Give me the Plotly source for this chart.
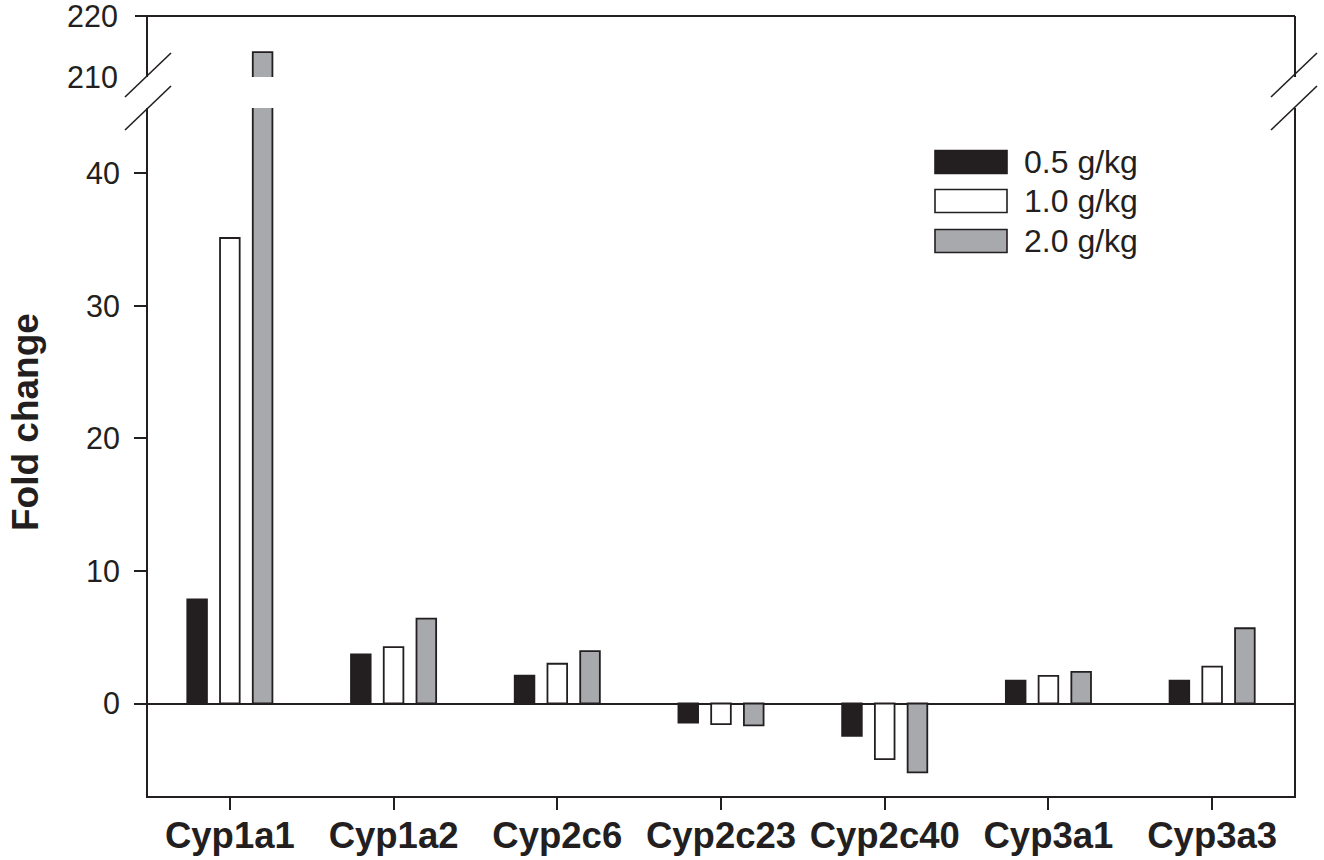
import plotly.graph_objects as go

categories = ["Cyp1a1", "Cyp1a2", "Cyp2c6", "Cyp2c23", "Cyp2c40", "Cyp3a1", "Cyp3a3"]
series_names = ["0.5 g/kg", "1.0 g/kg", "2.0 g/kg"]
dose_05 = [7.85, 3.7, 2.1, -1.45, -2.45, 1.72, 1.72]
dose_10 = [35.13, 4.25, 3.0, -1.55, -4.2, 2.08, 2.78]
dose_20 = [214.1, 6.4, 3.96, -1.65, -5.2, 2.38, 5.68]
series_values = [dose_05, dose_10, dose_20]
lower_ticks = [0, 10, 20, 30, 40]
upper_ticks = [210, 220]

INK = "#231f20"
fills = [INK, "#ffffff", "#a7a9ac"]
FONT = "Liberation Sans, Arial, Helvetica, sans-serif"

W, H = 1324, 860
ML, MR, MT, MB = 148, 30, 16, 64
PW, PH = W - ML - MR, H - MT - MB

def px_x(p):
    return (p - ML) / PW

def px_y(p):
    return (H - MB - p) / PH

lower_top = px_y(108)
upper_bottom = px_y(77)

fig = go.Figure()
offsets = [-0.26, -0.06, 0.14]
for name, vals, col, off in zip(series_names, series_values, fills, offsets):
    for ax in ("y", "y2"):
        fig.add_trace(go.Bar(
            x=categories, y=vals, name=name, yaxis=ax, xaxis="x",
            width=0.12, offset=off,
            marker=dict(color=col, line=dict(color=INK, width=1.8)),
            showlegend=False, cliponaxis=True,
        ))

fig.update_layout(
    width=W, height=H,
    margin=dict(l=ML, r=MR, t=MT, b=MB, autoexpand=False),
    paper_bgcolor="white", plot_bgcolor="white",
    barmode="overlay",
    font=dict(family=FONT, color=INK, size=30),
    showlegend=False,
    xaxis=dict(
        type="category", range=[-0.5, 6.5], anchor="y", automargin=False,
        showline=True, linecolor=INK, linewidth=2, mirror=False,
        ticks="outside", ticklen=12, tickwidth=2, tickcolor=INK,
        tickfont=dict(family=FONT, size=36.5, color=INK, weight="bold"),
        ticklabelstandoff=-6, ticklabeloverflow="allow",
        showgrid=False, zeroline=False,
    ),
    yaxis=dict(
        domain=[0, lower_top], range=[-6.98, 44.94], automargin=False,
        tickvals=lower_ticks,
        showline=True, linecolor=INK, linewidth=2, mirror=True,
        ticks="outside", ticklen=12, tickwidth=2, tickcolor=INK,
        tickfont=dict(size=30.5, color=INK),
        ticklabelstandoff=8, ticklabeloverflow="allow",
        showgrid=False, zeroline=True, zerolinecolor=INK, zerolinewidth=2,
    ),
    yaxis2=dict(
        domain=[upper_bottom, 1], range=[210, 220.03], automargin=False,
        tickvals=upper_ticks, anchor="x",
        showline=True, linecolor=INK, linewidth=2, mirror=True,
        ticks="", tickfont=dict(size=30.5, color=INK),
        ticklabelstandoff=22, ticklabeloverflow="allow",
        showgrid=False, zeroline=False,
    ),
)

shapes = []
# top border with the 220 tick extension
shapes.append(dict(type="line", xref="paper", yref="paper",
                   x0=px_x(135), x1=px_x(1295), y0=px_y(16), y1=px_y(16),
                   line=dict(color=INK, width=2)))
# break marks
for xa, xb in [(125, 171), (1271, 1317)]:
    for ya, yb in [(97, 53), (130, 86)]:
        shapes.append(dict(type="line", xref="paper", yref="paper",
                           x0=px_x(xa), x1=px_x(xb), y0=px_y(ya), y1=px_y(yb),
                           line=dict(color=INK, width=1.6)))
# legend swatches
rows = [162, 201, 241]
annotations = []
for name, col, ry in zip(series_names, fills, rows):
    shapes.append(dict(type="rect", xref="paper", yref="paper",
                       x0=px_x(935), x1=px_x(1007), y0=px_y(ry - 11.5), y1=px_y(ry + 11.5),
                       fillcolor=col, line=dict(color=INK, width=1.6)))
    annotations.append(dict(xref="paper", yref="paper", x=px_x(1022), y=px_y(ry),
                            text=name, showarrow=False, xanchor="left", yanchor="middle",
                            font=dict(size=32, color=INK, family=FONT)))
annotations.append(dict(xref="paper", yref="paper", x=px_x(26), y=px_y(422),
                        text="<b>Fold change</b>", showarrow=False, textangle=-90,
                        xanchor="center", yanchor="middle",
                        font=dict(size=37, color=INK, family=FONT)))
fig.update_layout(shapes=shapes, annotations=annotations)

fig.write_html(
    "out.html",
    config={"displayModeBar": False},
    post_script="document.body.style.margin='0';document.body.style.padding='0';"
)
